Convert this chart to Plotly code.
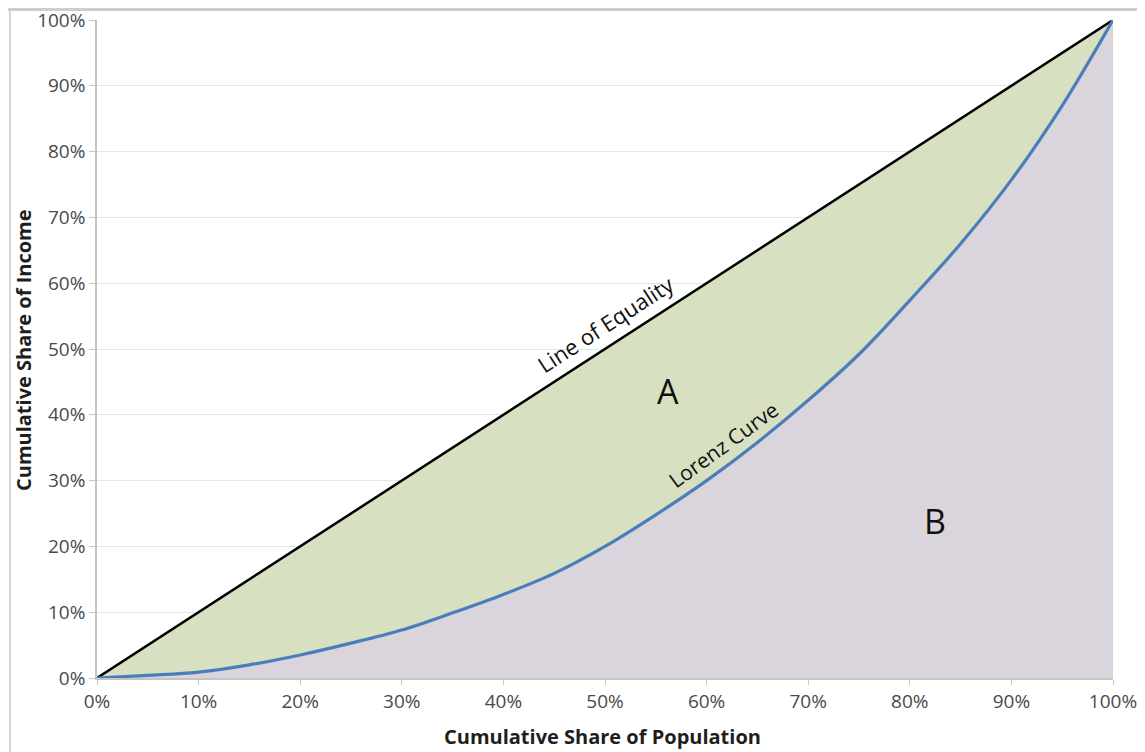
import plotly.graph_objects as go

population = [0, 5, 10, 15, 20, 25, 30, 35, 40, 45, 50, 55, 60, 65, 70, 75, 80, 85, 90, 95, 100]
lorenz = [0, 0.4, 0.9, 2.0, 3.5, 5.3, 7.3, 9.9, 12.7, 15.9, 20.0, 24.8, 30.0, 35.8, 42.2, 49.2, 57.4, 66.0, 75.7, 87.0, 100]
equality = [0, 100]
equality_x = [0, 100]
tick_vals = [0, 10, 20, 30, 40, 50, 60, 70, 80, 90, 100]
tick_text = [f"{v}%" for v in tick_vals]

# page is offset by the 8px default body margin
OFF = 8
W, H = 1145 - OFF, 752 - OFF
L, R, T, B = 97 - OFF, 32, 20 - OFF, 74

def px(x):
    return (x - 97) / 1016

def py(y):
    return (678 - y) / 658

fig = go.Figure()
fig.add_trace(go.Scatter(x=equality_x, y=equality, mode="lines", fill="tozeroy",
                         fillcolor="rgba(208,219,181,0.85)", line=dict(color="black", width=2.5),
                         hoverinfo="skip", showlegend=False))
fig.add_trace(go.Scatter(x=population, y=lorenz, mode="lines", fill="tozeroy",
                         fillcolor="rgba(218,212,224,0.92)", line=dict(color="#4a7ebb", width=3.2, shape="spline"),
                         hoverinfo="skip", showlegend=False))

font = "'Open Sans', sans-serif"

def ann(text, x, y, size, angle=0, color="#111"):
    return dict(text=text, x=px(x), y=py(y), xref="paper", yref="paper", xanchor="center",
                yanchor="middle", showarrow=False, textangle=angle,
                font=dict(size=size, color=color, family=font))

fig.update_layout(
    width=W, height=H,
    margin=dict(l=L, r=R, t=T, b=B, autoexpand=False),
    paper_bgcolor="white", plot_bgcolor="white",
    font=dict(family=font, color="#4a4a4a", size=19),
    xaxis=dict(range=[0, 100], tickvals=tick_vals, ticktext=tick_text, showgrid=False,
               showline=True, linecolor="#c4c4c4", linewidth=1.5, ticks="outside", ticklen=5,
               tickcolor="#c4c4c4", zeroline=False, fixedrange=True, ticklabeloverflow="allow"),
    yaxis=dict(range=[0, 100], tickvals=tick_vals, ticktext=tick_text, showgrid=True,
               gridcolor="#e6e6e6", gridwidth=1, showline=True, linecolor="#c4c4c4", linewidth=1.5,
               ticks="outside", ticklen=6, tickcolor="#c4c4c4", zeroline=False, fixedrange=True,
               ticklabeloverflow="allow"),
    annotations=[
        ann("<b>Cumulative Share of Population</b>", 602, 736, 20, color="#1e1e1e"),
        ann("<b>Cumulative Share of Income</b>", 23, 350, 20, angle=-90, color="#1e1e1e"),
        ann("Line of Equality", 605, 324, 22, angle=-33),
        ann("Lorenz Curve", 723, 445, 21, angle=-36),
        ann("A", 668, 391, 34),
        ann("B", 935, 521, 34),
    ],
    shapes=[
        dict(type="rect", xref="paper", yref="paper", x0=px(0), x1=px(1145), y0=py(5), y1=py(11),
             fillcolor="#cdcdcd", line=dict(width=0), layer="above"),
        dict(type="line", xref="paper", yref="paper", x0=px(10), x1=px(10), y0=py(10), y1=py(752),
             line=dict(color="#d6d6d6", width=2), layer="above"),
        dict(type="line", xref="paper", yref="paper", x0=px(1141), x1=px(1141), y0=py(10), y1=py(752),
             line=dict(color="#dedede", width=2), layer="above"),
    ],
)
fig.write_html("out.html")
